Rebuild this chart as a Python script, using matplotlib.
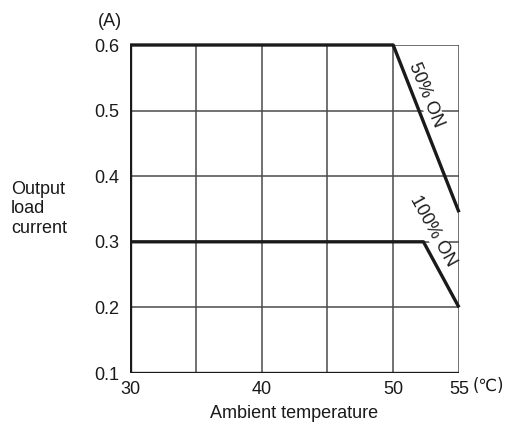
import matplotlib.pyplot as plt

plt.rcParams['font.family'] = ['Liberation Sans', 'DejaVu Sans']

# derating curves (ambient temperature in degC, load current in A)
temp_50 = [30, 50, 55]
curr_50 = [0.6, 0.6, 0.345]
temp_100 = [30, 52.3, 55]
curr_100 = [0.3, 0.3, 0.2]

x_ticks = [30, 40, 50, 55]
x_grid = [30, 35, 40, 45, 50, 55]
y_ticks = [0.1, 0.2, 0.3, 0.4, 0.5, 0.6]

fig = plt.figure(figsize=(5.07, 4.30), dpi=100)
ax = fig.add_axes([130 / 507, 1 - 373 / 430, 329 / 507, 328 / 430])

ax.set_xlim(30, 55)
ax.set_ylim(0.1, 0.6)
for x in x_grid:
    ax.axvline(x, color='#4a4a4a', lw=1.1, zorder=1)
for y in y_ticks:
    ax.axhline(y, color='#4a4a4a', lw=1.1, zorder=1)

ax.plot(temp_50, curr_50, color='#1a1a1a', lw=2.4, zorder=3, clip_on=False,
        solid_capstyle='butt')
ax.plot(temp_100, curr_100, color='#1a1a1a', lw=2.4, zorder=3, clip_on=False,
        solid_capstyle='butt')

for s in ax.spines.values():
    s.set_visible(False)
ax.axvline(30, color='#1a1a1a', lw=2.4, zorder=4)
ax.axhline(0.1, color='#1a1a1a', lw=2.4, zorder=4)

ax.set_xticks(x_ticks)
ax.set_xticklabels([str(t) for t in x_ticks])
ax.set_yticks(y_ticks)
ax.set_yticklabels(['%.1f' % t for t in y_ticks])
ax.tick_params(length=0, labelsize=13, colors='#1a1a1a')
ax.tick_params(axis='y', pad=8)
ax.tick_params(axis='x', pad=6)

# curve labels sit above the grid but below the curves
ax.text(52.5, 0.524, '50% ON', rotation=-68, ha='center', va='center',
        fontsize=13, color='#1a1a1a', zorder=2, rotation_mode='anchor',
        bbox=dict(facecolor='white', edgecolor='none', pad=0))
ax.text(53.0, 0.317, '100% ON', rotation=-61, ha='center', va='center',
        fontsize=13, color='#1a1a1a', zorder=2, rotation_mode='anchor',
        bbox=dict(facecolor='white', edgecolor='none', pad=0))

fig.text(110 / 507, 1 - 21 / 430, '(A)', ha='center', va='center',
         fontsize=13, color='#1a1a1a')
fig.text(11 / 507, 1 - 209 / 430, 'Output\nload\ncurrent', ha='left',
         va='center', fontsize=13, color='#1a1a1a', linespacing=1.2)
fig.text(473 / 507, 1 - 386 / 430, '(℃)', ha='left', va='center',
         fontsize=12, color='#1a1a1a', family=['DejaVu Sans'])
fig.text(294 / 507, 1 - 413 / 430, 'Ambient temperature', ha='center',
         va='center', fontsize=13, color='#1a1a1a')

fig.savefig('out.png', dpi=100)
